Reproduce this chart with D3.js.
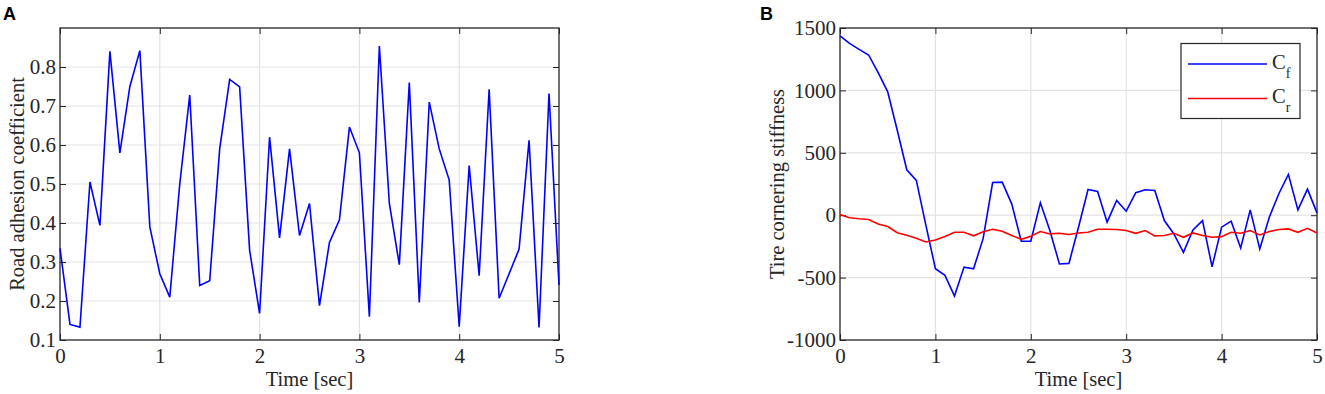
<!DOCTYPE html>
<html>
<head>
<meta charset="utf-8">
<script src="https://cdn.jsdelivr.net/npm/d3@7"></script>
<style>
  body { margin: 0; background: #fff; }
  svg { display: block; font-family: "Liberation Serif", "Times New Roman", serif; }
  .tick text { font-size: 21px; fill: #262626; font-family: "Liberation Serif", serif; }
  .tick line { stroke: #262626; stroke-width: 1; }
  .panelLetter { font-family: "Liberation Sans", Arial, sans-serif; font-weight: bold; font-size: 18px; }
  .axisLabel { font-size: 20.5px; fill: #262626; }
</style>
</head>
<body>
<div id="chart"></div>
<script>
// Chart data
const timeSteps = [0, 0.1, 0.2, 0.3, 0.4, 0.5, 0.6, 0.7, 0.8, 0.9,
  1, 1.1, 1.2, 1.3, 1.4, 1.5, 1.6, 1.7, 1.8, 1.9,
  2, 2.1, 2.2, 2.3, 2.4, 2.5, 2.6, 2.7, 2.8, 2.9,
  3, 3.1, 3.2, 3.3, 3.4, 3.5, 3.6, 3.7, 3.8, 3.9,
  4, 4.1, 4.2, 4.3, 4.4, 4.5, 4.6, 4.7, 4.8, 4.9, 5];

const roadAdhesion = [0.335, 0.14, 0.133, 0.505, 0.394, 0.84, 0.58, 0.75, 0.842, 0.39,
  0.27, 0.21, 0.50, 0.728, 0.24, 0.252, 0.59, 0.768, 0.749, 0.33,
  0.168, 0.62, 0.362, 0.59, 0.368, 0.45, 0.188, 0.35, 0.408, 0.646,
  0.58, 0.16, 0.854, 0.45, 0.293, 0.76, 0.196, 0.71, 0.59, 0.51,
  0.134, 0.547, 0.265, 0.743, 0.207, 0.27, 0.333, 0.612, 0.132, 0.732, 0.241];

const frontStiffness = [1436, 1377, 1329, 1284, 1142, 989, 681, 364, 279, -80,
  -429, -482, -648, -416, -429, -188, 262, 265, 91, -209,
  -209, 99, -123, -391, -386, -96, 206, 190, -56, 118,
  32, 180, 204, 198, -43, -150, -297, -118, -43, -413,
  -96, -48, -263, 43, -271, -16, 172, 327, 43, 209, 19];

const rearStiffness = [5, -21, -29, -35, -70, -91, -140, -160, -185, -215,
  -198, -170, -137, -137, -165, -133, -113, -129, -163, -193,
  -169, -131, -150, -145, -155, -142, -137, -113, -113, -115,
  -123, -145, -123, -166, -163, -145, -177, -142, -163, -177,
  -172, -137, -145, -123, -158, -131, -115, -110, -137, -105, -142];

const timeTicks = [0, 1, 2, 3, 4, 5];
const adhesionTicks = [0.1, 0.2, 0.3, 0.4, 0.5, 0.6, 0.7, 0.8];
const stiffnessTicks = [-1000, -500, 0, 500, 1000, 1500];

const axisColor = "#262626", gridColor = "#e3e3e3";
const w = 1325, h = 394;
const svg = d3.select("#chart").append("svg").attr("width", w).attr("height", h);

// Draw one MATLAB-style panel, returns scales
function drawPanel(opt) {
  let x = d3.scaleLinear().domain([0, 5]).range([opt.left, opt.right]);
  let y = d3.scaleLinear().domain(opt.yDomain).range([opt.bottom, opt.top]);
  let g = svg.append("g");

  // Grid
  g.append("g").selectAll("line").data(timeTicks.slice(1, -1)).join("line")
    .attr("x1", d => x(d)).attr("x2", d => x(d)).attr("y1", opt.top).attr("y2", opt.bottom)
    .attr("stroke", gridColor).attr("stroke-width", 1.2);
  g.append("g").selectAll("line").data(opt.yTicks.filter(d => y(d) > opt.top + 1 && y(d) < opt.bottom - 1)).join("line")
    .attr("x1", opt.left).attr("x2", opt.right).attr("y1", d => y(d)).attr("y2", d => y(d))
    .attr("stroke", gridColor).attr("stroke-width", 1.2);

  // Axes with inward ticks on all four sides
  let bottom = g.append("g").attr("transform", "translate(0," + opt.bottom + ")")
    .call(d3.axisBottom(x).tickValues(timeTicks).tickFormat(d => String(d)).tickSize(-6).tickPadding(8));
  let left = g.append("g").attr("transform", "translate(" + opt.left + ",0)")
    .call(d3.axisLeft(y).tickValues(opt.yTicks).tickFormat(opt.fmt).tickSize(-6).tickPadding(4));
  let top = g.append("g").attr("transform", "translate(0," + opt.top + ")")
    .call(d3.axisTop(x).tickValues(timeTicks).tickFormat("").tickSize(-6));
  let right = g.append("g").attr("transform", "translate(" + opt.right + ",0)")
    .call(d3.axisRight(y).tickValues(opt.yTicks).tickFormat("").tickSize(-6));
  [bottom, left, top, right].forEach(a => { a.select(".domain").remove(); a.attr("font-size", null).attr("font-family", null); });

  // Box
  g.append("rect").attr("x", opt.left).attr("y", opt.top)
    .attr("width", opt.right - opt.left).attr("height", opt.bottom - opt.top)
    .attr("fill", "none").attr("stroke", axisColor).attr("stroke-width", 1.3);

  // Axis labels
  g.append("text").attr("class", "axisLabel").attr("text-anchor", "middle")
    .attr("x", (opt.left + opt.right) / 2).attr("y", 386).text("Time [sec]");
  g.append("text").attr("class", "axisLabel").attr("text-anchor", "middle")
    .attr("transform", "translate(" + opt.yLabelX + "," + (opt.top + opt.bottom) / 2 + ") rotate(-90)")
    .text(opt.yLabel);

  // Panel letter
  svg.append("text").attr("class", "panelLetter").attr("x", opt.letterX).attr("y", 20).text(opt.letter);
  return { x, y };
}

function drawSeries(sc, values, color) {
  let line = d3.line().x((d, i) => sc.x(timeSteps[i])).y(d => sc.y(d));
  svg.append("path").datum(values).attr("d", line)
    .attr("fill", "none").attr("stroke", color).attr("stroke-width", 1.6).attr("stroke-linejoin", "miter");
}

// Panel A
let scA = drawPanel({ left: 60, right: 559, top: 28, bottom: 340, yDomain: [0.1, 0.9],
  yTicks: adhesionTicks, fmt: d => d.toFixed(1), yLabel: "Road adhesion coefficient",
  yLabelX: 24, letter: "A", letterX: 3 });
drawSeries(scA, roadAdhesion, "#0000ff");

// Panel B (MATLAB uses a plain hyphen for negatives)
let scB = drawPanel({ left: 840, right: 1317, top: 28, bottom: 340, yDomain: [-1000, 1500],
  yTicks: stiffnessTicks, fmt: d => String(d), yLabel: "Tire cornering stiffness",
  yLabelX: 784, letter: "B", letterX: 760 });
drawSeries(scB, frontStiffness, "#0000ff");
drawSeries(scB, rearStiffness, "#ff0000");

// Legend
let legend = svg.append("g");
legend.append("rect").attr("x", 1181).attr("y", 43.5).attr("width", 119).attr("height", 75)
  .attr("fill", "#fff").attr("stroke", axisColor).attr("stroke-width", 1.2);
[{ name: "f", color: "#0000ff", y: 64 }, { name: "r", color: "#ff0000", y: 98.5 }].forEach(d => {
  legend.append("line").attr("x1", 1188).attr("x2", 1267).attr("y1", d.y).attr("y2", d.y)
    .attr("stroke", d.color).attr("stroke-width", 1.6);
  let t = legend.append("text").attr("x", 1272).attr("y", d.y + 4.5).attr("font-size", 20.5).attr("fill", axisColor);
  t.append("tspan").text("C");
  t.append("tspan").attr("font-size", 14).attr("dy", 9).text(d.name);
});
</script>
</body>
</html>
